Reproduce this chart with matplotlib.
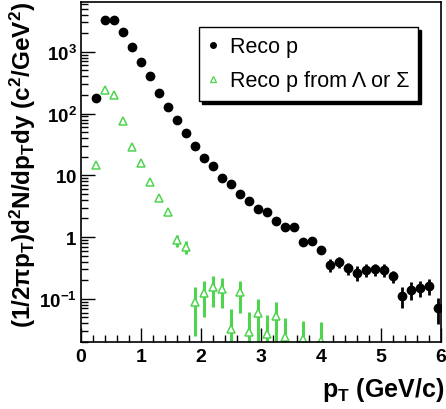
import matplotlib
matplotlib.use("Agg")
import matplotlib.pyplot as plt
from matplotlib.lines import Line2D
from matplotlib.ticker import FixedLocator, MultipleLocator, LogLocator, NullFormatter
import numpy as np

plt.rcParams['font.family'] = ['Liberation Sans', 'DejaVu Sans']
plt.rcParams['mathtext.fontset'] = 'custom'
plt.rcParams['mathtext.rm'] = 'Liberation Sans'
plt.rcParams['mathtext.bf'] = 'Liberation Sans:bold'
plt.rcParams['mathtext.it'] = 'Liberation Sans:italic'
plt.rcParams['mathtext.sf'] = 'Liberation Sans'

# ---- data ----
pt_reco = [0.25, 0.40, 0.55, 0.70, 0.85, 1.00, 1.15, 1.30, 1.45, 1.60,
           1.75, 1.90, 2.05, 2.20, 2.35, 2.50, 2.65, 2.80, 2.95, 3.10,
           3.25, 3.40, 3.55, 3.70, 3.85, 4.00, 4.15, 4.30, 4.45, 4.60,
           4.75, 4.90, 5.05, 5.20, 5.35, 5.50, 5.65, 5.80, 5.95]
y_reco = [177, 3300, 3300, 2090, 1175, 687, 403, 214, 129, 79,
          48.7, 29.3, 19.1, 14.0, 9.2, 7.3, 4.9, 3.8, 2.8, 2.55,
          1.82, 1.48, 1.43, 0.84, 0.85, 0.61, 0.356, 0.39, 0.314, 0.264,
          0.295, 0.30, 0.295, 0.232, 0.112, 0.14, 0.151, 0.163, 0.071]
err_reco = [3, 60, 60, 40, 25, 15, 9, 5, 3, 2,
            1.2, 0.8, 0.5, 0.4, 0.3, 0.25, 0.18, 0.15, 0.12, 0.11,
            0.09, 0.08, 0.08, 0.06, 0.06, 0.06, 0.08, 0.08, 0.07, 0.07,
            0.07, 0.07, 0.07, 0.05, 0.042, 0.045, 0.045, 0.048, 0.032]

pt_lam = [0.25, 0.40, 0.55, 0.70, 0.85, 1.00, 1.15, 1.30, 1.45, 1.60,
          1.75, 1.90, 2.05, 2.20, 2.35, 2.50, 2.65, 2.80, 2.95, 3.10,
          3.25, 3.40, 3.70, 4.00]
y_lam = [14.7, 238, 198, 75, 28.5, 15.9, 7.7, 4.3, 2.5, 0.88,
         0.69, 0.089, 0.124, 0.155, 0.145, 0.033, 0.127, 0.029, 0.058, 0.0267,
         0.0526, 0.0245, 0.0224, 0.0204]
err_lam = [1.2, 5, 5, 3, 1.5, 1.0, 0.6, 0.4, 0.25, 0.2,
           0.16, 0.064, 0.074, 0.08, 0.073, 0.035, 0.067, 0.032, 0.041, 0.028,
           0.036, 0.024, 0.022, 0.021]

labels = ['Reco p', 'Reco p from Λ or Σ']
xticks = [0, 1, 2, 3, 4, 5, 6]
yticks = [0.1, 1, 10, 100, 1000]
ytick_labels = [r'$\mathbf{10^{-1}}$', r'$\mathbf{1}$', r'$\mathbf{10}$',
                r'$\mathbf{10^{2}}$', r'$\mathbf{10^{3}}$']

green = '#4fd44f'

fig = plt.figure(figsize=(4.46, 4.10), dpi=100)
ax = fig.add_axes([81/446, 1-343/410, 360/446, 340/410])
ax.set_yscale('log')
ax.set_xlim(0, 6)
ax.set_ylim(0.02, 6400)

yr = np.array(y_reco); er = np.array(err_reco)
ax.errorbar(pt_reco, yr, yerr=[np.minimum(er, yr*0.999), er], fmt='o',
            color='black', ms=6.0, elinewidth=2.0, capsize=0, zorder=3)

yl = np.array(y_lam); el = np.array(err_lam)
ax.errorbar(pt_lam, yl, yerr=[np.minimum(el, yl*0.999), el], fmt='^',
            color=green, mfc='white', mec=green, ms=6.3, mew=1.1,
            elinewidth=2.2, capsize=0, zorder=2)

# axes styling
ax.xaxis.set_major_locator(FixedLocator(xticks))
ax.xaxis.set_minor_locator(MultipleLocator(0.2))
ax.set_xticklabels([str(t) for t in xticks])
ax.yaxis.set_major_locator(FixedLocator(yticks))
ax.set_yticklabels(ytick_labels)
ax.yaxis.set_minor_locator(LogLocator(base=10, subs=np.arange(2, 10)))
ax.yaxis.set_minor_formatter(NullFormatter())
ax.tick_params(which='both', direction='in', top=False, right=False, width=1.0)
ax.tick_params(which='major', length=10)
ax.tick_params(which='minor', length=5)
ax.tick_params(axis='x', which='major', labelsize=14, pad=4)
ax.tick_params(axis='y', which='major', labelsize=13.5, pad=3)
for lab in ax.get_xticklabels():
    lab.set_fontweight('bold')
for sp in ax.spines.values():
    sp.set_linewidth(1.2)

# axis titles
fig.text(23/446, 1-2/410, r'$\mathbf{(1/2\pi p_T)d^2N/dp_Tdy\ (c^2/GeV^2)}$',
         rotation=90, ha='center', va='top', fontsize=17.5)
fig.text(444/446, 1-390/410, r'$\mathbf{p_T\ (GeV/c)}$',
         ha='right', va='center', fontsize=18)

# legend
handles = [Line2D([], [], ls='none', marker='o', color='black', ms=4),
           Line2D([], [], ls='none', marker='^', mfc='white', mec=green,
                  ms=4.5, mew=0.9)]
leg = ax.legend(handles, labels, loc='lower left',
                bbox_to_anchor=((199-81)/360, (343-102)/340, (418-199)/360, (102-24)/340),
                mode='expand', borderaxespad=0, fontsize=15.5, frameon=True,
                fancybox=False, handlelength=0.4, handletextpad=0.6,
                borderpad=0.45, labelspacing=0.6,
                shadow={'ox': 2.2, 'oy': -2.2, 'facecolor': 'black',
                        'edgecolor': 'black', 'alpha': 1})
leg.get_frame().set_edgecolor('black')
leg.get_frame().set_linewidth(1.0)

fig.savefig('out.png', dpi=100)
